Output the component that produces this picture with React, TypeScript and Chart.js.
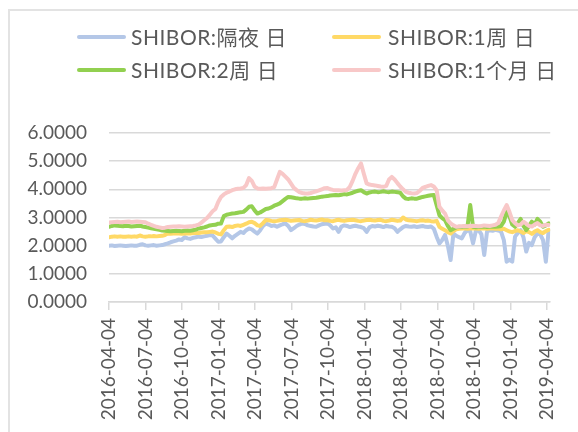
import React, { useEffect, useRef } from "react";
import { Chart, registerables } from "chart.js";

Chart.register(...registerables);

// ---- data ----
const START_DATE = "2016-04-04";
const STEP_DAYS = 7; // weekly observations starting at START_DATE
const X_MAX_DAYS = 1103;

const tickDates = [
  "2016-04-04", "2016-07-04", "2016-10-04", "2017-01-04", "2017-04-04",
  "2017-07-04", "2017-10-04", "2018-01-04", "2018-04-04", "2018-07-04",
  "2018-10-04", "2019-01-04", "2019-04-04",
];
const yTickValues = [0, 1, 2, 3, 4, 5, 6];

const seriesNames = ["SHIBOR:隔夜 日", "SHIBOR:1周 日", "SHIBOR:2周 日", "SHIBOR:1个月 日"];
const seriesColors = ["#b4c7e7", "#ffd966", "#92d050", "#f8c8c8"];

const overnight = [
  2.00, 2.01, 1.99, 2.00, 2.01, 2.00, 1.99, 2.00, 2.01, 2.00, 2.00, 2.03,
  2.05, 2.01, 2.00, 2.01, 2.02, 2.00, 2.01, 2.02, 2.05,
  2.08, 2.12, 2.15, 2.18, 2.22, 2.20, 2.30,
  2.26, 2.24, 2.28, 2.30, 2.32, 2.31, 2.33, 2.35,
  2.38, 2.36, 2.25, 2.14, 2.15, 2.30,
  2.43, 2.35, 2.26, 2.35, 2.42, 2.49,
  2.45, 2.55, 2.61, 2.58, 2.50, 2.43,
  2.55, 2.70, 2.79, 2.75, 2.70, 2.72, 2.67,
  2.72, 2.76, 2.79, 2.70, 2.55, 2.62, 2.70, 2.75, 2.79,
  2.77, 2.72, 2.70, 2.68, 2.67, 2.72, 2.76, 2.78,
  2.79, 2.72, 2.61, 2.65, 2.49, 2.68, 2.72, 2.70, 2.66, 2.69,
  2.71, 2.68, 2.66, 2.62, 2.49, 2.65, 2.70, 2.68, 2.71, 2.69,
  2.66, 2.70, 2.68, 2.67, 2.62, 2.49, 2.58, 2.66, 2.70, 2.68,
  2.67, 2.69, 2.66, 2.68, 2.70, 2.67, 2.66, 2.68, 2.60, 2.32,
  2.08, 2.20, 2.38, 2.00, 1.49, 2.43, 2.35,
  2.30, 2.26, 2.45, 2.55, 2.50, 2.08, 2.52, 2.55, 2.40, 1.67, 2.50, 2.55, 2.53, 2.56, 2.54, 2.50,
  2.20, 1.43, 1.50, 1.43, 2.32, 2.45, 2.55, 2.30, 1.79, 2.10, 2.02, 2.30, 2.43, 2.40, 2.20, 1.43, 2.55,
];

const week1 = [
  2.30, 2.32, 2.33, 2.32, 2.33, 2.32, 2.32, 2.33, 2.32, 2.33, 2.32, 2.36, 2.33, 2.32,
  2.33, 2.33, 2.34, 2.33, 2.34, 2.35, 2.38,
  2.43, 2.42, 2.43, 2.44, 2.43, 2.42, 2.43, 2.44, 2.43, 2.45, 2.46, 2.45, 2.47, 2.48, 2.48,
  2.49, 2.50, 2.47, 2.42, 2.40, 2.55,
  2.67, 2.68, 2.66, 2.70, 2.72, 2.70,
  2.74, 2.78, 2.83, 2.85, 2.80, 2.72,
  2.70, 2.80, 2.91, 2.90, 2.88, 2.87, 2.88,
  2.90, 2.91, 2.92, 2.90, 2.88, 2.89, 2.90, 2.91, 2.88, 2.87, 2.89, 2.92, 2.90, 2.89, 2.91, 2.93, 2.90,
  2.90, 2.88, 2.87, 2.90, 2.92, 2.89, 2.88, 2.90, 2.91, 2.92,
  2.90, 2.88, 2.87, 2.89, 2.91, 2.92, 2.90, 2.89, 2.91, 2.92,
  2.88, 2.87, 2.89, 2.92, 2.90, 2.88, 2.89, 3.00, 2.93, 2.90,
  2.89, 2.88, 2.87, 2.89, 2.90, 2.88, 2.89, 2.87, 2.86, 2.88,
  2.67, 2.60, 2.55, 2.48, 2.43, 2.52, 2.58,
  2.60, 2.61, 2.62, 2.60, 2.61, 2.62, 2.61, 2.60, 2.61, 2.62, 2.60, 2.61, 2.62, 2.60, 2.61,
  2.58, 2.60, 2.55, 2.50, 2.48, 2.52, 2.55, 2.50, 2.45, 2.52, 2.48, 2.42, 2.50, 2.55, 2.48, 2.45, 2.52, 2.56,
];

const week2 = [
  2.67, 2.70, 2.72, 2.71, 2.70, 2.69, 2.71, 2.70, 2.68, 2.69, 2.70, 2.71, 2.68, 2.66,
  2.64, 2.62, 2.60, 2.58, 2.56, 2.54, 2.53,
  2.52, 2.51, 2.52, 2.53, 2.52, 2.51, 2.53, 2.54, 2.53, 2.55, 2.57,
  2.61, 2.63, 2.65, 2.68, 2.72, 2.73, 2.74, 2.78, 2.79,
  3.05, 3.10, 3.12, 3.14, 3.15, 3.17, 3.19,
  3.20, 3.28, 3.38, 3.40, 3.25, 3.14,
  3.18, 3.24, 3.30, 3.32, 3.36, 3.42, 3.46,
  3.50, 3.58, 3.66, 3.73, 3.72, 3.70,
  3.68, 3.67, 3.67, 3.68, 3.67, 3.68, 3.69, 3.70, 3.72, 3.74, 3.75,
  3.76, 3.78, 3.79, 3.80, 3.79, 3.81, 3.83, 3.82,
  3.85, 3.88, 3.92, 3.95, 3.97, 3.90,
  3.85, 3.89, 3.91, 3.92, 3.90, 3.91, 3.93, 3.91, 3.90, 3.92, 3.91, 3.90, 3.88,
  3.75, 3.67, 3.66, 3.68, 3.67, 3.67, 3.70, 3.73, 3.75, 3.77, 3.79, 3.80, 3.44,
  3.08, 2.98, 2.91, 2.70, 2.55, 2.60, 2.65,
  2.67, 2.66, 2.68, 2.67, 3.44, 2.67, 2.65, 2.66, 2.67, 2.68, 2.66, 2.67, 2.68, 2.67, 2.68, 2.70,
  2.85, 3.20, 3.05, 2.75, 2.67, 2.80, 2.95, 2.70, 2.55, 2.70, 2.85, 2.75, 2.95, 2.85, 2.67, 2.72, 2.79,
];

const month1 = [
  2.82, 2.83, 2.84, 2.85, 2.83, 2.84, 2.85, 2.86, 2.84, 2.85, 2.86, 2.85, 2.84, 2.83,
  2.78, 2.74, 2.70, 2.67, 2.65, 2.63, 2.64,
  2.66, 2.67, 2.68, 2.68, 2.69, 2.68, 2.67, 2.68, 2.69, 2.70, 2.72, 2.75,
  2.82, 2.90, 2.98, 3.10, 3.22,
  3.30, 3.55, 3.73, 3.82, 3.88, 3.92, 3.97,
  4.00, 4.02, 4.03, 4.05, 4.15,
  4.40, 4.30, 4.10, 4.03,
  4.02, 4.03, 4.02, 4.03, 4.04, 4.08, 4.35,
  4.62, 4.55, 4.45, 4.35, 4.20, 4.05,
  3.97, 3.90, 3.87, 3.85, 3.85, 3.87,
  3.90, 3.93, 3.96, 4.00, 4.04, 4.05,
  4.00, 3.98, 3.97, 3.97, 3.96, 3.97, 3.98,
  4.09, 4.30, 4.55, 4.75, 4.92, 4.55,
  4.21, 4.17, 4.15, 4.14, 4.12, 4.10, 4.09,
  4.12, 4.35, 4.44, 4.35, 4.22, 4.10, 4.00,
  3.91, 3.88, 3.86, 3.85, 3.87, 3.95, 4.05,
  4.09, 4.12, 4.15, 4.10, 3.97,
  3.38, 3.25, 3.14, 2.90, 2.79, 2.72, 2.67,
  2.68, 2.69, 2.70, 2.69, 2.70, 2.71, 2.70, 2.69, 2.70, 2.72, 2.71, 2.70, 2.72, 2.74, 2.80,
  3.03, 3.25, 3.44, 3.20, 2.91, 2.80,
  2.72, 2.75, 2.85, 2.78, 2.70, 2.68, 2.75, 2.80, 2.72, 2.70, 2.74, 2.73,
];

const seriesValues = [overnight, week1, week2, month1];

const dayOffset = (d: string) =>
  Math.round((Date.parse(d) - Date.parse(START_DATE)) / 86400000);

const FONT = "Lato, 'Noto Sans CJK SC', sans-serif";
const TEXT_COLOR = "#595959";
const GRID_COLOR = "#d9d9d9";

const legendPos = [
  { sx: 77, tx: 131, cy: 37.3 },
  { sx: 332, tx: 388, cy: 37.3 },
  { sx: 77, tx: 131, cy: 70 },
  { sx: 332, tx: 388, cy: 70 },
];

export default function App() {
  const canvasRef = useRef<HTMLCanvasElement | null>(null);

  useEffect(() => {
    const canvas = canvasRef.current;
    if (!canvas) return;
    Chart.defaults.font.family = FONT;
    const datasets = seriesValues.map((vals, s) => ({
      label: seriesNames[s],
      data: vals.map((v, i) => ({ x: i * STEP_DAYS, y: v })),
      borderColor: seriesColors[s],
      backgroundColor: seriesColors[s],
      borderWidth: 4,
      borderJoinStyle: "round" as const,
      borderCapStyle: "round" as const,
      pointRadius: 0,
      tension: 0,
      fill: false,
      order: seriesValues.length - 1 - s,
    }));
    const chart = new Chart(canvas, {
      type: "line",
      data: { datasets },
      options: {
        animation: false,
        responsive: false,
        maintainAspectRatio: false,
        devicePixelRatio: 1,
        layout: { padding: { top: 133, right: 22, left: 0, bottom: 0 } },
        plugins: { legend: { display: false }, tooltip: { enabled: false } },
        scales: {
          x: {
            type: "linear",
            min: 0,
            max: X_MAX_DAYS,
            afterBuildTicks: (s: any) => {
              s.ticks = tickDates.map((d) => ({ value: dayOffset(d) }));
            },
            afterFit: (s: any) => {
              s.height = 130;
            },
            grid: {
              drawOnChartArea: false,
              drawTicks: true,
              tickLength: 8,
              color: GRID_COLOR,
              lineWidth: 1.5,
            },
            border: { display: true, color: GRID_COLOR, width: 1.5 },
            ticks: {
              autoSkip: false,
              minRotation: 90,
              maxRotation: 90,
              padding: 8,
              color: TEXT_COLOR,
              font: { size: 19, family: FONT },
              callback: (_v: any, i: number) => tickDates[i],
            },
          },
          y: {
            min: 0,
            max: 6,
            afterBuildTicks: (s: any) => {
              s.ticks = yTickValues.map((v) => ({ value: v }));
            },
            afterFit: (s: any) => {
              s.width = 109;
            },
            grid: { drawTicks: false, color: GRID_COLOR, lineWidth: 1.5 },
            border: { display: false },
            ticks: {
              padding: 22,
              color: TEXT_COLOR,
              font: { size: 19, family: FONT },
              callback: (v: any) => Number(v).toFixed(4),
            },
          },
        },
      },
    });
    return () => chart.destroy();
  }, []);

  return (
    <div
      style={{
        position: "fixed",
        left: 0,
        top: 0,
        width: 578,
        height: 432,
        overflow: "hidden",
        background: "#ffffff",
      }}
    >
      <canvas
        ref={canvasRef}
        width={578}
        height={432}
        style={{ position: "absolute", left: 0, top: 0, width: 578, height: 432 }}
      />
      <div
        style={{
          position: "absolute",
          left: 8,
          top: 9,
          width: 620,
          height: 500,
          borderLeft: "2px solid #e3e3e3",
          borderTop: "2px solid #e3e3e3",
          pointerEvents: "none",
        }}
      />
      {seriesNames.map((name, s) => (
        <React.Fragment key={name}>
          <div
            style={{
              position: "absolute",
              left: legendPos[s].sx,
              top: legendPos[s].cy - 2,
              width: 49,
              height: 4,
              borderRadius: 2,
              background: seriesColors[s],
            }}
          />
          <div
            style={{
              position: "absolute",
              left: legendPos[s].tx,
              top: legendPos[s].cy - 11.5,
              fontFamily: FONT,
              fontSize: 21,
              lineHeight: "21px",
              color: TEXT_COLOR,
              whiteSpace: "nowrap",
              letterSpacing: 0.5,
            }}
          >
            {name}
          </div>
        </React.Fragment>
      ))}
    </div>
  );
}
